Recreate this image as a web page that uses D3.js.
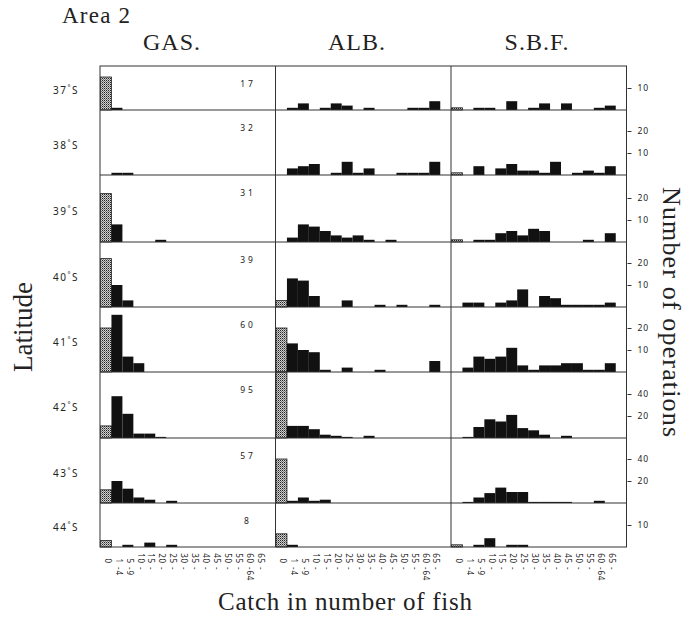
<!DOCTYPE html>
<html><head><meta charset="utf-8">
<script src="https://cdn.jsdelivr.net/npm/d3@7"></script>
<style>body{margin:0;background:#fff} svg{display:block}</style>
</head><body><svg id="c" width="691" height="619"></svg>
<script>
// ---------------- DATA ----------------
const binLabels = ["0","1-4","5-9","10-","15-","20-","25-","30-","35-","40-","45-","50-","55-","60-64","65-"];
const latitudes = ["37","38","39","40","41","42","43","44"];
const species = ["GAS.","ALB.","S.B.F."];
const gasTotals = [17,32,31,39,60,95,57,8];
const tickStep = [10,10,10,10,10,20,20,10];

const gas = [
  [15,1,0,0,0,0,0,0,0,0,0,0,0,0,0],
  [0,1,1,0,0,0,0,0,0,0,0,0,0,0,0],
  [22,8,0,0,0,1,0,0,0,0,0,0,0,0,0],
  [22,10,3,0,0,0,0,0,0,0,0,0,0,0,0],
  [20,26,7,4,0,0,0,0,0,0,0,0,0,0,0],
  [11,38,22,4,4,1,0,0,0,0,0,0,0,0,0],
  [12,20,13,5,3,0,2,0,0,0,0,0,0,0,0],
  [3,0,1,0,2,0,1,0,0,0,0,0,0,0,0]
];
const alb = [
  [0,1,3,0,1,3,2,0,1,0,0,0,1,1,4],
  [0,3,4,5,0,1,6,1,3,0,0,1,1,1,6],
  [0,2,8,7,5,3,2,3,1,0,1,0,0,0,0],
  [3,13,12,5,0,0,3,0,0,1,0,1,0,0,1],
  [20,13,10,9,1,0,2,0,0,1,0,0,0,0,5],
  [60,11,11,8,3,2,1,0,2,0,0,0,0,0,0],
  [40,2,5,2,3,0,0,0,0,0,0,0,0,0,0],
  [6,1,0,0,0,0,0,0,0,0,0,0,0,0,0]
];
const sbf = [
  [1,0,1,1,0,4,0,1,3,0,3,0,0,1,2],
  [1,0,4,0,3,5,2,2,1,6,0,1,2,1,4],
  [1,0,1,1,4,5,3,6,5,0,0,0,1,0,4],
  [0,2,2,0,2,3,8,0,5,4,1,1,1,1,2],
  [0,2,7,6,7,11,3,1,3,3,4,4,1,1,4],
  [0,1,10,17,15,21,9,7,3,0,2,0,0,0,0],
  [0,1,5,9,14,10,10,1,1,1,1,0,0,2,0],
  [1,0,1,4,0,1,1,0,0,0,0,0,0,0,0]
];
const series = [gas, alb, sbf];

// ---------------- LAYOUT ----------------
const svg = d3.select("#c");
const plotL = 100, colW = 175.5, plotT = 66;
const rowH = [44,65,67,65,65,66,65,44];
const pxPerStep = 22;
const binW = 10.95;
const serif = "'Liberation Serif','Times New Roman',serif";
const sans = "'Noto Sans','DejaVu Sans',sans-serif";
const ink = "#222";

const rowTop = [];
{ let yy = plotT; rowH.forEach(h => { rowTop.push(yy); yy += h; }); }
const plotB = rowTop[rowTop.length-1] + rowH[rowH.length-1];
const plotR = plotL + 3*colW;

const defs = svg.append("defs");
const pat = defs.append("pattern").attr("id","stip").attr("patternUnits","userSpaceOnUse")
  .attr("width",2).attr("height",2);
pat.append("rect").attr("width",2).attr("height",2).attr("fill","#d0d0d0");
pat.append("rect").attr("width",1).attr("height",1).attr("fill","#222");
pat.append("rect").attr("x",1).attr("y",1).attr("width",1).attr("height",1).attr("fill","#777");

const xScales = species.map((s,c) => {
  const x0 = plotL + c*colW + 0.5;
  return d3.scaleBand().domain(binLabels).range([x0, x0 + binW*binLabels.length]).padding(0);
});
const yScales = rowH.map((h,r) => d3.scaleLinear()
  .domain([0, h/pxPerStep*tickStep[r]])
  .range([rowTop[r]+h, rowTop[r]]).clamp(true));

// bars
series.forEach((data,c) => {
  const x = xScales[c];
  data.forEach((vals,r) => {
    const y = yScales[r];
    const g = svg.append("g");
    g.selectAll("rect").data(vals.map((v,i)=>({v,i})).filter(d => d.v > 0)).join("rect")
      .attr("x", d => x(binLabels[d.i]))
      .attr("width", x.bandwidth())
      .attr("y", d => y(d.v))
      .attr("height", d => y(0) - y(d.v))
      .attr("fill", d => d.i === 0 ? "url(#stip)" : "#111")
      .attr("stroke", d => d.i === 0 ? "#222" : "none")
      .attr("stroke-width", 0.8);
  });
});

// frame
const frame = svg.append("g").attr("stroke","#333").attr("stroke-width",1).attr("fill","none");
frame.append("rect").attr("x",plotL).attr("y",plotT).attr("width",plotR-plotL).attr("height",plotB-plotT);
[1,2].forEach(c => frame.append("line").attr("x1",plotL+c*colW).attr("x2",plotL+c*colW).attr("y1",plotT).attr("y2",plotB));
rowTop.slice(1).forEach(yy => frame.append("line").attr("x1",plotL).attr("x2",plotR).attr("y1",yy).attr("y2",yy));

// right axis ticks
yScales.forEach((y,r) => {
  const ticks = d3.range(tickStep[r], y.domain()[1], tickStep[r]).filter(v => y(v) > rowTop[r] + 6);
  const axis = d3.axisRight(y).tickValues(ticks).tickSize(4).tickPadding(6).tickFormat(d3.format("d"));
  const g = svg.append("g").attr("transform", `translate(${plotR+1},0)`).call(axis);
  g.select(".domain").remove();
  g.selectAll("line").attr("stroke","#333");
  g.selectAll("text").attr("font-family",sans).attr("font-size",8.5).attr("fill",ink).attr("letter-spacing",1);
});

// latitude labels
latitudes.forEach((lat,r) => {
  const t = svg.append("text").attr("x",66).attr("y",rowTop[r]+rowH[r]/2+6)
    .attr("text-anchor","middle").attr("font-family",sans).attr("font-size",10)
    .attr("letter-spacing",1.5).attr("fill",ink);
  t.append("tspan").text(lat);
  t.append("tspan").attr("font-size",7).attr("dy",-4).text("°");
  t.append("tspan").attr("dy",4).text("S");
});

// GAS totals
gasTotals.forEach((n,r) => {
  svg.append("text").attr("x",248).attr("y",rowTop[r]+21).attr("text-anchor","middle")
    .attr("font-family",sans).attr("font-size",8.5).attr("letter-spacing",3).attr("fill",ink).text(n);
});

// x tick labels (rotated)
xScales.forEach(x => {
  binLabels.forEach(lab => {
    const cx = x(lab) + x.bandwidth()/2 + 1.5;
    const k = lab.indexOf("-");
    const first = k < 0 ? lab : lab.slice(0,k);
    const rest = k < 0 ? "" : lab.slice(k);
    const g = svg.append("g").attr("transform", `translate(${cx},564) rotate(90)`)
      .attr("font-family",sans).attr("font-size",8).attr("fill",ink).attr("letter-spacing",0.8);
    g.append("text").attr("x",0).attr("dy","0.35em").attr("text-anchor","end").text(first);
    if (rest) g.append("text").attr("x",3).attr("dy","0.35em").attr("text-anchor","start").text(rest);
  });
});

// titles
svg.append("text").attr("x",62).attr("y",23).attr("font-family",serif).attr("font-size",23)
  .attr("fill",ink).attr("textLength",68).attr("lengthAdjust","spacing").text("Area 2");
const headX = [172, 357, 537];
species.forEach((s,c) => {
  svg.append("text").attr("x",headX[c]).attr("y",50).attr("text-anchor","middle")
    .attr("font-family",serif).attr("font-size",24).attr("letter-spacing",1).attr("fill",ink).text(s);
});
svg.append("text").attr("transform","translate(32,327) rotate(-90)").attr("text-anchor","middle")
  .attr("font-family",serif).attr("font-size",27).attr("fill",ink).text("Latitude");
svg.append("text").attr("transform","translate(663,312) rotate(90)").attr("text-anchor","middle")
  .attr("font-family",serif).attr("font-size",26).attr("fill",ink)
  .attr("textLength",250).attr("lengthAdjust","spacing").text("Number of operations");
svg.append("text").attr("x",345).attr("y",610).attr("text-anchor","middle")
  .attr("font-family",serif).attr("font-size",25).attr("fill",ink)
  .attr("textLength",254).attr("lengthAdjust","spacing").text("Catch in number of fish");
</script></body></html>
